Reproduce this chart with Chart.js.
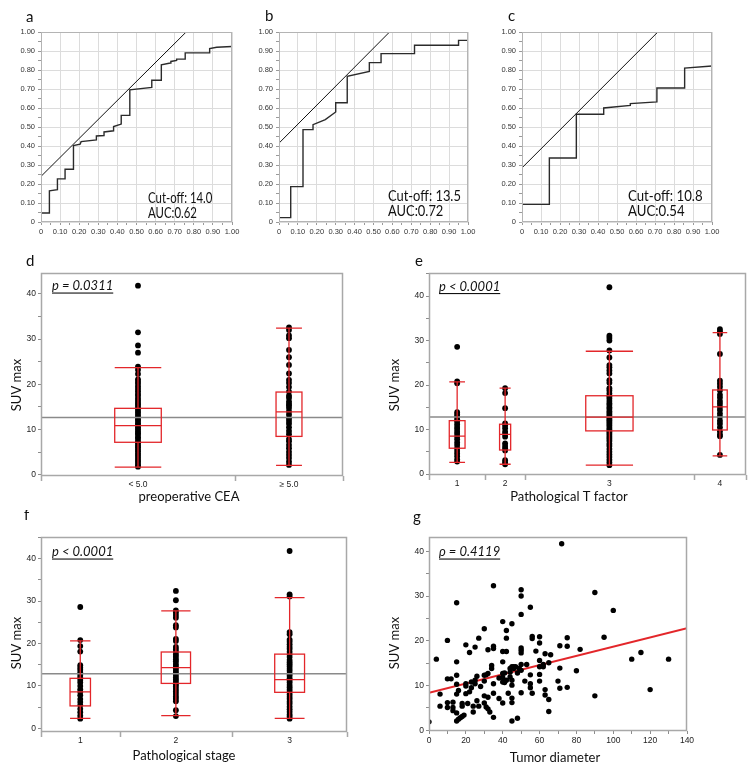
<!DOCTYPE html>
<html>
<head>
<meta charset="utf-8">
<script src="https://cdn.jsdelivr.net/npm/chart.js@4.4.1/dist/chart.umd.min.js"></script>
<style>
    body { margin: 0; background: #fff; width: 750px; height: 776px; position: relative; overflow: hidden; }
    canvas { position: absolute; }
</style>
</head>
<body>
<canvas id="rocA"></canvas>
<canvas id="rocB"></canvas>
<canvas id="rocC"></canvas>
<canvas id="boxCea"></canvas>
<canvas id="boxT"></canvas>
<canvas id="boxStage"></canvas>
<canvas id="scatterDiam"></canvas>
<script>
// ==========================================
// Data
// ==========================================

// ROC curves (1 - specificity / sensitivity), step corners
const rocA_fpr  = [0, 0.044, 0.044, 0.086, 0.086, 0.126, 0.126, 0.17, 0.17, 0.205, 0.21, 0.29, 0.29, 0.33, 0.33, 0.38, 0.38, 0.415, 0.42, 0.42, 0.465, 0.465, 0.58, 0.58, 0.63, 0.63, 0.677, 0.68, 0.71, 0.71, 0.755, 0.755, 0.883, 0.883, 0.92, 1.0];
const rocA_sens = [0.047, 0.047, 0.164, 0.17, 0.227, 0.227, 0.278, 0.278, 0.402, 0.41, 0.423, 0.432, 0.453, 0.455, 0.474, 0.48, 0.502, 0.514, 0.516, 0.561, 0.561, 0.696, 0.708, 0.746, 0.746, 0.827, 0.837, 0.845, 0.85, 0.857, 0.857, 0.89, 0.89, 0.913, 0.92, 0.924];
const rocA_tangentX = [0, 0.76];
const rocA_tangentY = [0.24, 1.0];

const rocB_fpr  = [0, 0.062, 0.062, 0.127, 0.127, 0.18, 0.18, 0.245, 0.30, 0.30, 0.361, 0.361, 0.478, 0.478, 0.54, 0.54, 0.717, 0.717, 0.95, 0.95, 1.0];
const rocB_sens = [0.023, 0.023, 0.186, 0.186, 0.486, 0.486, 0.512, 0.539, 0.579, 0.628, 0.628, 0.767, 0.793, 0.839, 0.839, 0.886, 0.886, 0.93, 0.93, 0.956, 0.956];
const rocB_tangentX = [0, 0.585];
const rocB_tangentY = [0.415, 1.0];

const rocC_fpr  = [0, 0.144, 0.144, 0.286, 0.286, 0.43, 0.43, 0.57, 0.57, 0.71, 0.71, 0.856, 0.856, 1.0];
const rocC_sens = [0.093, 0.093, 0.337, 0.337, 0.567, 0.567, 0.60, 0.614, 0.623, 0.632, 0.705, 0.705, 0.81, 0.821];
const rocC_tangentX = [0, 0.715];
const rocC_tangentY = [0.285, 1.0];

// d: preoperative CEA
const ceaLabels = ['< 5.0', '\u2265 5.0'];
const ceaN   = [97, 54];
const ceaLo  = [1.7, 2.1];
const ceaQ1  = [7.2, 8.5];
const ceaMed = [10.9, 13.9];
const ceaQ3  = [14.7, 18.3];
const ceaHi  = [23.7, 32.4];
const ceaMean = 12.7;
const ceaLow  = [41.8, 31.5, 28.6, 27.0, 23.9, 23.2, 22.3, 21.1, 20.6, 20.1, 19.5, 19.0, 18.5, 17.9, 17.5, 16.9, 16.4, 15.9, 15.5, 15.0, 14.6, 14.1, 13.7, 13.2, 12.8, 12.3, 11.9, 11.4, 11.0, 10.5, 10.1, 9.6, 9.2, 8.8, 8.3, 7.9, 7.4, 7.0, 6.5, 6.1, 5.6, 5.2, 4.7, 4.3, 3.8, 3.3, 2.9, 2.4, 2.0, 1.8];
const ceaHigh = [32.6, 32.0, 30.8, 30.2, 27.6, 26.0, 24.3, 22.4, 21.0, 20.3, 19.4, 18.4, 17.5, 17.0, 16.2, 15.7, 15.3, 14.8, 14.0, 13.3, 12.5, 11.9, 11.3, 10.5, 9.7, 9.0, 7.9, 7.4, 6.6, 5.9, 5.1, 4.4, 3.7, 2.9, 2.2];

// e: pathological T factor
const tLabels = ['1', '2', '3', '4'];
const tN   = [27, 19, 81, 25];
const tLo  = [2.6, 2.2, 2.0, 4.1];
const tQ1  = [5.8, 5.4, 9.7, 9.9];
const tMed = [8.5, 8.9, 12.8, 15.1];
const tQ3  = [12.0, 11.2, 17.6, 18.9];
const tHi  = [20.7, 19.3, 27.6, 31.8];
const tMean = 12.8;
const t1 = [28.6, 20.8, 20.4, 13.9, 13.4, 12.9, 12.3, 11.8, 11.2, 10.6, 10.1, 9.5, 9.0, 8.4, 7.8, 7.1, 6.5, 5.8, 5.2, 4.6, 4.0, 3.3, 2.8];
const t2 = [19.3, 18.2, 14.8, 11.4, 10.9, 10.3, 9.5, 9.0, 8.4, 6.9, 6.3, 5.8, 5.3, 3.1, 2.6, 2.2];
const t3 = [42.0, 31.1, 30.6, 30.0, 27.8, 26.2, 24.5, 24.0, 23.3, 22.6, 21.1, 20.5, 19.3, 18.8, 18.1, 17.5, 17.0, 16.4, 15.9, 15.5, 15.0, 14.6, 14.1, 13.7, 13.3, 12.9, 12.5, 12.1, 11.7, 11.3, 10.9, 10.4, 10.0, 9.6, 9.2, 8.8, 8.3, 7.9, 7.4, 6.8, 6.3, 5.6, 5.0, 4.4, 3.8, 3.2, 2.6, 2.0];
const t4 = [32.6, 32.1, 31.5, 27.0, 21.0, 20.3, 19.6, 18.8, 17.8, 17.2, 16.4, 15.8, 15.1, 14.4, 13.6, 12.9, 12.0, 11.3, 10.5, 9.6, 8.9, 8.5, 4.3];

// f: pathological stage
const stageLabels = ['1', '2', '3'];
const stageN   = [39, 56, 57];
const stageLo  = [2.35, 3.0, 2.35];
const stageQ1  = [5.3, 10.6, 8.5];
const stageMed = [8.6, 14.3, 11.5];
const stageQ3  = [11.8, 18.0, 17.5];
const stageHi  = [20.6, 27.7, 30.8];
const stageMean = 12.9;
const stage1 = [28.6, 20.8, 19.4, 18.1, 14.9, 14.3, 13.8, 13.2, 12.6, 12.0, 11.4, 10.8, 10.0, 9.2, 8.6, 7.8, 6.9, 6.2, 5.5, 4.6, 3.8, 3.0, 2.3];
const stage2 = [32.4, 30.2, 27.8, 27.3, 26.7, 26.1, 24.3, 23.8, 21.1, 20.6, 19.2, 18.6, 18.0, 17.4, 16.9, 16.3, 15.8, 15.2, 14.7, 14.2, 13.6, 13.1, 12.6, 12.0, 11.5, 11.0, 10.4, 9.9, 9.3, 8.7, 8.1, 7.5, 7.0, 6.4, 4.3, 2.9];
const stage3 = [41.8, 31.6, 31.1, 22.7, 22.2, 20.9, 20.4, 19.8, 19.2, 18.7, 18.0, 17.4, 16.8, 16.1, 15.6, 15.1, 14.6, 14.0, 13.5, 12.9, 12.4, 11.8, 11.3, 10.8, 10.2, 9.7, 9.1, 8.6, 8.0, 7.4, 6.9, 6.3, 5.8, 5.1, 4.5, 3.9, 3.3, 2.8, 2.3];

// g: tumor diameter vs SUVmax
const diameter = [0, 4, 6, 6, 10, 10, 10, 10, 12, 13, 13, 13, 15, 15, 15, 15, 15, 15, 15, 16, 16, 17, 18, 18, 18, 19, 20, 20, 20, 20, 21, 22, 22, 23, 23, 24, 24, 25, 25, 25, 26, 26, 27, 27, 28, 30, 30, 30, 30, 30, 31, 31, 32, 32, 32, 32, 33, 34, 34, 35, 35, 35, 35, 35, 35, 38, 38, 40, 40, 40, 40, 40, 40, 40, 41, 41, 42, 42, 42, 42, 43, 44, 44, 44, 45, 45, 45, 45, 45, 45, 45, 46, 46, 47, 48, 48, 49, 50, 50, 50, 50, 50, 50, 50, 50, 50, 52, 53, 55, 55, 55, 55, 56, 56, 56, 58, 60, 60, 60, 60, 60, 60, 62, 62, 63, 63, 63, 65, 65, 65, 66, 70, 71, 71, 71, 72, 75, 75, 75, 80, 82, 90, 90, 95, 100, 110, 115, 120, 130];
const suvmax   = [1.9, 15.9, 8.1, 5.4, 11.5, 20.1, 6.2, 5.1, 11.5, 6.3, 5.1, 4.4, 28.5, 15.3, 12.3, 10.3, 8.1, 3.9, 2.1, 8.9, 2.5, 2.8, 6.0, 5.4, 3.1, 3.4, 19.1, 10.4, 9.9, 8.2, 6.0, 17.4, 8.6, 9.5, 10.8, 4.1, 5.4, 18.6, 10.4, 11.2, 12.1, 6.6, 5.4, 20.6, 9.8, 22.7, 12.3, 11.0, 7.7, 6.1, 5.2, 12.4, 18.0, 7.4, 12.7, 4.8, 4.1, 14.5, 13.8, 32.3, 18.8, 18.3, 10.4, 8.3, 2.9, 7.1, 11.7, 24.3, 17.6, 15.3, 12.7, 10.8, 6.1, 11.8, 12.8, 10.7, 17.6, 22.3, 20.6, 11.2, 8.3, 13.8, 11.9, 13.0, 23.8, 14.2, 11.2, 10.1, 7.2, 6.2, 2.1, 14.2, 13.8, 14.2, 12.8, 2.7, 13.8, 31.4, 30.0, 25.9, 18.4, 17.9, 17.3, 14.7, 13.4, 8.4, 11.0, 14.7, 27.5, 12.4, 10.4, 9.5, 8.3, 21.0, 20.5, 17.7, 20.9, 19.5, 15.6, 14.2, 12.5, 11.0, 14.2, 14.7, 17.1, 9.1, 7.9, 6.9, 4.2, 15.1, 16.9, 11.0, 18.9, 13.9, 9.4, 41.7, 20.7, 18.8, 9.6, 13.3, 18.1, 30.8, 7.7, 20.8, 26.8, 15.9, 17.4, 9.1, 15.9];
const fitX = [0, 140];
const fitY = [8.4, 22.8];

// ==========================================
// Layout: canvas box and plot area, page pixels
// ==========================================
const panels = {
    rocA:        { box: [0, 0, 245, 242],     area: [41, 32, 232, 222] },
    rocB:        { box: [245, 0, 245, 242],   area: [279, 32, 468, 222] },
    rocC:        { box: [490, 0, 260, 242],   area: [522, 32, 712, 222] },
    boxCea:      { box: [0, 250, 370, 260],   area: [41, 273, 343, 476] },
    boxT:        { box: [370, 250, 380, 260], area: [429, 273, 746, 475] },
    boxStage:    { box: [0, 510, 370, 266],   area: [41, 537, 347, 732] },
    scatterDiam: { box: [370, 510, 380, 266], area: [429, 537, 687, 731] }
};

const RED = '#e3262a';
const TICK_FONT = { family: 'Liberation Sans', size: 8.5 };
const TITLE_FONT = '13px Lato';
const LETTER_FONT = '15px Lato';
const P_FONT = 'italic 13px Lato';
const ROC_FONT = '15px Lato';

function setupCanvas(id) {
    const b = panels[id].box;
    const c = document.getElementById(id);
    c.width = b[2];
    c.height = b[3];
    c.style.left = b[0] + 'px';
    c.style.top = b[1] + 'px';
    return c;
}

function layoutFor(id) {
    const [bx, by, bw, bh] = panels[id].box;
    const [l, t, r, b] = panels[id].area;
    return {
        padding: { left: 0, top: t - by, right: bx + bw - r, bottom: 0 },
        yWidth: l - bx,
        xHeight: by + bh - b
    };
}

function groupStarts(n) {
    return n.map((v, i) => n.slice(0, i).reduce((a, b) => a + b, 0));
}

// ==========================================
// Plugins
// ==========================================

// free text (panel letters, axis titles, annotations) in page coords
const textPlugin = {
    id: 'panelText',
    afterDraw(chart, args, opts) {
        const ctx = chart.ctx;
        const [bx, by] = opts.origin;
        opts.items.forEach(it => {
            ctx.save();
            ctx.font = it.font;
            ctx.fillStyle = it.color || '#111';
            ctx.textAlign = it.align || 'left';
            ctx.textBaseline = it.baseline || 'alphabetic';
            ctx.translate(it.x - bx, it.y - by);
            if (it.rotate) ctx.rotate(it.rotate);
            if (it.sx) ctx.scale(it.sx, 1);
            ctx.fillText(it.text, 0, 0);
            if (it.underline) {
                const w = ctx.measureText(it.text).width;
                ctx.fillRect(0, 2.5, w, 1.1);
            }
            ctx.restore();
        });
    }
};

// grey frame round the plot area, and group boundary ticks
const framePlugin = {
    id: 'frame',
    afterDatasetsDraw(chart, args, opts) {
        const { ctx, chartArea: a } = chart;
        ctx.save();
        ctx.strokeStyle = opts.color;
        ctx.lineWidth = opts.width;
        ctx.strokeRect(a.left + 0.5, a.top + 0.5, a.right - a.left - 1, a.bottom - a.top - 1);
        if (opts.bounds) {
            const x = chart.scales.x;
            ctx.beginPath();
            opts.bounds.forEach(v => {
                const px = Math.round(x.getPixelForValue(v)) + 0.5;
                ctx.moveTo(px, a.bottom);
                ctx.lineTo(px, a.bottom + 5);
            });
            ctx.stroke();
        }
        ctx.restore();
    }
};

// outlier box plots drawn through the chart scales
const boxPlugin = {
    id: 'boxes',
    afterDatasetsDraw(chart, args, opts) {
        if (!opts.n) return;
        const { ctx } = chart;
        const x = chart.scales.x, y = chart.scales.y;
        const starts = groupStarts(opts.n);
        ctx.save();
        ctx.strokeStyle = RED;
        ctx.lineWidth = 1.3;
        opts.n.forEach((n, i) => {
            const cx = x.getPixelForValue(starts[i] + n / 2);
            const half = (x.getPixelForValue(starts[i] + n) - x.getPixelForValue(starts[i])) * opts.widthFrac / 2;
            const lo = y.getPixelForValue(opts.lo[i]);
            const q1 = y.getPixelForValue(opts.q1[i]);
            const med = y.getPixelForValue(opts.med[i]);
            const q3 = y.getPixelForValue(opts.q3[i]);
            const hi = y.getPixelForValue(opts.hi[i]);
            ctx.beginPath();
            ctx.moveTo(cx, hi); ctx.lineTo(cx, q3);
            ctx.moveTo(cx, q1); ctx.lineTo(cx, lo);
            ctx.moveTo(cx - half, hi); ctx.lineTo(cx + half, hi);
            ctx.moveTo(cx - half, lo); ctx.lineTo(cx + half, lo);
            ctx.moveTo(cx - half, med); ctx.lineTo(cx + half, med);
            ctx.stroke();
            ctx.strokeRect(cx - half, q3, half * 2, q1 - q3);
        });
        ctx.restore();
    }
};

// ==========================================
// Scales
// ==========================================
function fixedY(lay) {
    return s => { s.width = lay.yWidth; s.paddingTop = 0; s.paddingBottom = 0; };
}
function fixedX(lay) {
    return s => { s.height = lay.xHeight; s.paddingLeft = 0; s.paddingRight = 0; };
}

function rocScale(lay, horizontal) {
    const isMajor = v => Math.round(v * 100) % 10 === 0;
    return {
        type: 'linear',
        min: 0,
        max: 1,
        border: { display: false },
        grid: {
            color: c => (c.tick && isMajor(c.tick.value) ? '#dcdcdc' : 'rgba(0,0,0,0)'),
            tickColor: '#9a9a9a',
            tickLength: 3,
            lineWidth: 1
        },
        ticks: {
            stepSize: 0.05,
            autoSkip: false,
            maxRotation: 0,
            padding: horizontal ? 2 : 3,
            color: '#333',
            font: { family: 'Liberation Sans', size: 7.5 },
            callback: v => (isMajor(v) ? (v === 0 ? '0' : v.toFixed(2)) : '')
        },
        afterFit: horizontal ? fixedX(lay) : fixedY(lay)
    };
}

function suvScale(lay, min, max) {
    return {
        type: 'linear',
        min: min,
        max: max,
        border: { display: false },
        grid: { drawOnChartArea: false, drawTicks: true, tickLength: 3, tickColor: '#8c8c8c' },
        ticks: {
            stepSize: 5,
            includeBounds: false,
            autoSkip: false,
            padding: 2,
            color: '#222',
            font: TICK_FONT,
            callback: v => (v % 10 === 0 ? String(v) : '')
        },
        afterFit: fixedY(lay)
    };
}

function groupScale(lay, n, labels) {
    const starts = groupStarts(n);
    const centers = n.map((v, i) => starts[i] + v / 2);
    return {
        type: 'linear',
        min: 0,
        max: n.reduce((a, b) => a + b, 0),
        border: { display: false },
        grid: { display: false, drawTicks: false },
        ticks: {
            autoSkip: false,
            maxRotation: 0,
            padding: 4,
            color: '#222',
            font: TICK_FONT,
            callback: (v, i) => labels[i]
        },
        afterBuildTicks: s => { s.ticks = centers.map(v => ({ value: v })); },
        afterFit: fixedX(lay)
    };
}

// ==========================================
// Charts
// ==========================================
function makeRoc(id, fpr, sens, tanX, tanY, texts) {
    const canvas = setupCanvas(id);
    const lay = layoutFor(id);
    return new Chart(canvas, {
        type: 'scatter',
        data: {
            datasets: [{
                data: tanX.map((x, i) => ({ x: x, y: tanY[i] })),
                showLine: true,
                borderColor: '#111',
                borderWidth: 1,
                pointRadius: 0
            }, {
                data: fpr.map((x, i) => ({ x: x, y: sens[i] })),
                showLine: true,
                borderColor: '#2b2b2b',
                borderWidth: 1.4,
                pointRadius: 0
            }]
        },
        options: {
            responsive: false,
            animation: false,
            devicePixelRatio: 1,
            layout: { padding: lay.padding },
            plugins: {
                legend: { display: false },
                tooltip: { enabled: false },
                frame: { color: '#b4b4b4', width: 1 },
                panelText: { origin: panels[id].box, items: texts }
            },
            scales: {
                x: rocScale(lay, true),
                y: rocScale(lay, false)
            }
        },
        plugins: [framePlugin, textPlugin]
    });
}

function makeBoxPlot(id, groups, stats, yRange, texts) {
    const canvas = setupCanvas(id);
    const lay = layoutFor(id);
    const starts = groupStarts(stats.n);
    const total = stats.n.reduce((a, b) => a + b, 0);
    const dots = [];
    groups.forEach((vals, i) => {
        const cx = starts[i] + stats.n[i] / 2;
        vals.forEach(v => dots.push({ x: cx, y: v }));
    });
    return new Chart(canvas, {
        type: 'scatter',
        data: {
            datasets: [{
                data: [{ x: 0, y: stats.mean }, { x: total, y: stats.mean }],
                showLine: true,
                borderColor: '#8a8a8a',
                borderWidth: 1.5,
                pointRadius: 0
            }, {
                data: dots,
                pointRadius: 2.9,
                pointBackgroundColor: '#000',
                pointBorderWidth: 0
            }]
        },
        options: {
            responsive: false,
            animation: false,
            devicePixelRatio: 1,
            layout: { padding: lay.padding },
            plugins: {
                legend: { display: false },
                tooltip: { enabled: false },
                boxes: stats,
                frame: { color: '#a8a8a8', width: 1.5, bounds: starts.concat([total]) },
                panelText: { origin: panels[id].box, items: texts }
            },
            scales: {
                x: groupScale(lay, stats.n, stats.labels),
                y: suvScale(lay, yRange[0], yRange[1])
            }
        },
        plugins: [boxPlugin, framePlugin, textPlugin]
    });
}

function makeScatter(id, texts) {
    const canvas = setupCanvas(id);
    const lay = layoutFor(id);
    return new Chart(canvas, {
        type: 'scatter',
        data: {
            datasets: [{
                data: diameter.map((x, i) => ({ x: x, y: suvmax[i] })),
                pointRadius: 2.7,
                pointBackgroundColor: '#000',
                pointBorderWidth: 0
            }, {
                data: fitX.map((x, i) => ({ x: x, y: fitY[i] })),
                showLine: true,
                borderColor: RED,
                borderWidth: 2,
                pointRadius: 0
            }]
        },
        options: {
            responsive: false,
            animation: false,
            devicePixelRatio: 1,
            layout: { padding: lay.padding },
            plugins: {
                legend: { display: false },
                tooltip: { enabled: false },
                frame: { color: '#a8a8a8', width: 1.5 },
                panelText: { origin: panels[id].box, items: texts }
            },
            scales: {
                x: {
                    type: 'linear',
                    min: 0,
                    max: 140,
                    border: { display: false },
                    grid: { drawOnChartArea: false, drawTicks: true, tickLength: 3, tickColor: '#8c8c8c' },
                    ticks: {
                        stepSize: 10,
                        autoSkip: false,
                        maxRotation: 0,
                        padding: 2,
                        color: '#222',
                        font: TICK_FONT,
                        callback: v => (v % 20 === 0 ? String(v) : '')
                    },
                    afterFit: fixedX(lay)
                },
                y: suvScale(lay, -0.15, 43.2)
            }
        },
        plugins: [framePlugin, textPlugin]
    });
}

const VERT = -Math.PI / 2;

makeRoc('rocA', rocA_fpr, rocA_sens, rocA_tangentX, rocA_tangentY, [
    { text: 'a', x: 26, y: 22, font: LETTER_FONT },
    { text: 'Cut-off: 14.0', x: 148, y: 203, font: ROC_FONT, sx: 0.76 },
    { text: 'AUC:0.62', x: 148, y: 217.5, font: ROC_FONT, sx: 0.76 }
]);
makeRoc('rocB', rocB_fpr, rocB_sens, rocB_tangentX, rocB_tangentY, [
    { text: 'b', x: 265, y: 21, font: LETTER_FONT },
    { text: 'Cut-off: 13.5', x: 388, y: 201, font: ROC_FONT, sx: 0.86 },
    { text: 'AUC:0.72', x: 388, y: 215.5, font: ROC_FONT, sx: 0.86 }
]);
makeRoc('rocC', rocC_fpr, rocC_sens, rocC_tangentX, rocC_tangentY, [
    { text: 'c', x: 508, y: 21, font: LETTER_FONT },
    { text: 'Cut-off: 10.8', x: 628, y: 201, font: ROC_FONT, sx: 0.88 },
    { text: 'AUC:0.54', x: 628, y: 216, font: ROC_FONT, sx: 0.88 }
]);

makeBoxPlot('boxCea', [ceaLow, ceaHigh],
    { n: ceaN, labels: ceaLabels, lo: ceaLo, q1: ceaQ1, med: ceaMed, q3: ceaQ3, hi: ceaHi, mean: ceaMean, widthFrac: 0.24 },
    [-0.25, 44.6], [
    { text: 'd', x: 26, y: 265.5, font: LETTER_FONT },
    { text: 'p = 0.0311', x: 52, y: 290, font: P_FONT, underline: true },
    { text: 'SUV max', x: 17, y: 385, font: TITLE_FONT, align: 'center', baseline: 'middle', rotate: VERT },
    { text: 'preoperative CEA', x: 189, y: 501, font: TITLE_FONT, align: 'center' }
]);

makeBoxPlot('boxT', [t1, t2, t3, t4],
    { n: tN, labels: tLabels, lo: tLo, q1: tQ1, med: tMed, q3: tQ3, hi: tHi, mean: tMean, widthFrac: 0.28 },
    [-0.22, 45.2], [
    { text: 'e', x: 415, y: 265.5, font: LETTER_FONT },
    { text: 'p < 0.0001', x: 439, y: 290.5, font: P_FONT, underline: true },
    { text: 'SUV max', x: 395, y: 385, font: TITLE_FONT, align: 'center', baseline: 'middle', rotate: VERT },
    { text: 'Pathological T factor', x: 569, y: 501, font: TITLE_FONT, align: 'center' }
]);

makeBoxPlot('boxStage', [stage1, stage2, stage3],
    { n: stageN, labels: stageLabels, lo: stageLo, q1: stageQ1, med: stageMed, q3: stageQ3, hi: stageHi, mean: stageMean, widthFrac: 0.26 },
    [-0.85, 45.1], [
    { text: 'f', x: 24, y: 520, font: LETTER_FONT },
    { text: 'p < 0.0001', x: 52, y: 556, font: P_FONT, underline: true },
    { text: 'SUV max', x: 17, y: 643, font: TITLE_FONT, align: 'center', baseline: 'middle', rotate: VERT },
    { text: 'Pathological stage', x: 184, y: 760, font: TITLE_FONT, align: 'center' }
]);

makeScatter('scatterDiam', [
    { text: 'g', x: 413, y: 522, font: LETTER_FONT },
    { text: '\u03c1 = 0.4119', x: 439, y: 556, font: P_FONT, underline: true },
    { text: 'SUV max', x: 395, y: 643, font: TITLE_FONT, align: 'center', baseline: 'middle', rotate: VERT },
    { text: 'Tumor diameter', x: 555, y: 762, font: TITLE_FONT, align: 'center' }
]);
</script>
</body>
</html>
